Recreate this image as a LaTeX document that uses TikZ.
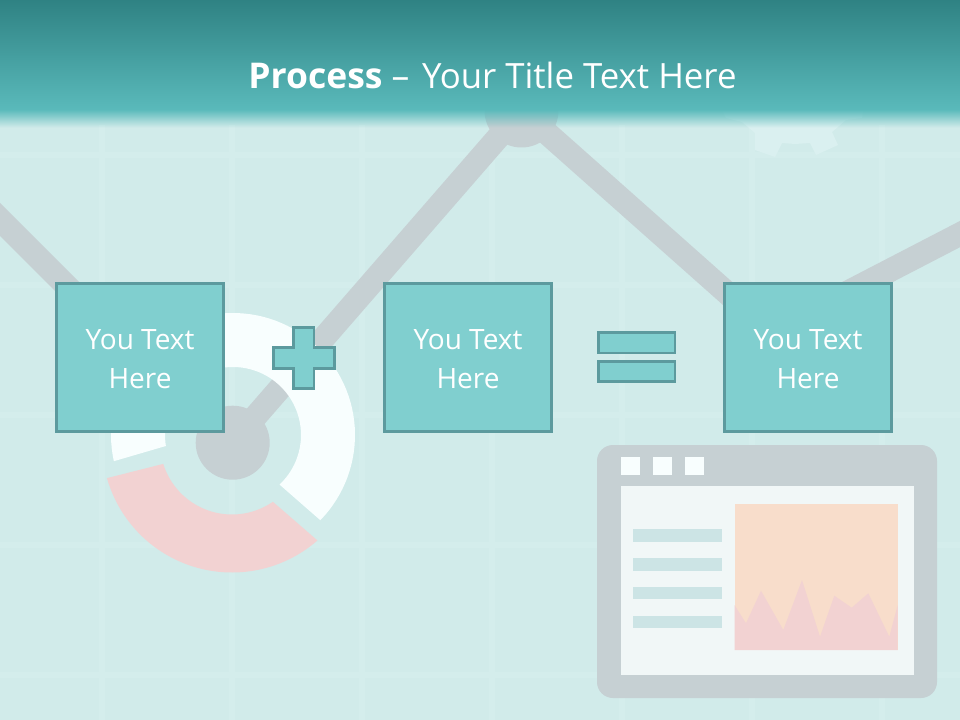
\documentclass[tikz,border=0pt]{standalone}
\usepackage{fontspec}
\setmainfont{Open Sans}
\definecolor{bgc}{HTML}{D1EBEA}
\definecolor{gridc}{HTML}{D4EDEC}
\definecolor{grayc}{HTML}{C6D0D3}
\definecolor{topc}{HTML}{2F8283}
\definecolor{botc}{HTML}{5ABABB}
\definecolor{boxc}{HTML}{80CFCF}
\definecolor{edgec}{HTML}{5C9A9E}
\definecolor{whitec}{HTML}{F8FEFE}
\definecolor{pinkc}{HTML}{F2D2D2}
\definecolor{orangec}{HTML}{F8DDCB}
\definecolor{panelc}{HTML}{F1F7F7}
\definecolor{barc}{HTML}{CCE4E5}
\definecolor{gearc}{HTML}{DAF0F0}
\tikzset{
  x=0.75pt,y=-0.75pt,
  gridline/.style={draw=gridc,line width=4pt},
  chartline/.style={draw=grayc,line width=17.5pt},
  disc/.style={circle,fill=grayc,inner sep=0pt,minimum size=55.5pt},
  textbox/.style={draw=edgec,line width=2pt,fill=boxc,text=white,minimum width=125pt,minimum height=111pt,inner sep=0pt,align=center,font=\fontsize{21pt}{29.6pt}\selectfont},
  sym/.style={draw=edgec,line width=2pt,fill=boxc},
}
\begin{document}
\begin{tikzpicture}
\useasboundingbox (0,0) rectangle (960,720);
\fill[bgc] (0,0) rectangle (960,720);
\foreach \gx in {102,232,362,492,622,752,882} \draw[gridline] (\gx,125) -- (\gx,720);
\foreach \gy in {155,285,415,545,675} \draw[gridline] (0,\gy) -- (960,\gy);
% gear
\fill[gearc] (723,90) -- (723,112) -- (726,118) -- (742,122) -- (755,133) -- (755,150) -- (775,157) -- (782,143) -- (795,144) -- (810,143) -- (816,155) -- (838,145) -- (832,132) -- (846,120) -- (862,118) -- (866,90) -- cycle;
% chart line
\coordinate (p0) at (-20,199.5);
\coordinate (p1) at (232.7,442.7);
\coordinate (p2) at (521.5,110.5);
\coordinate (p3) at (771,332);
\coordinate (p4) at (980,223.7);
\coordinate (p5) at (130,349.5);
\draw[chartline] (p0) -- (p5);
\draw[chartline] (p1) -- (p2);
\draw[chartline] (p2) -- (p3) -- (p4);
\node[disc] (hubtop) at (p2) {};
% donut
\fill[whitec] plot[domain=44.3:-192.4,samples=80] ({233+122*cos(\x)},{435+122*sin(\x)}) -- plot[domain=-189.3:46.8,samples=80] ({233+68*cos(\x)},{435+68*sin(\x)}) -- cycle;
\fill[pinkc] plot[domain=48.9:164.1,samples=60] ({232+130*cos(\x)},{442.5+130*sin(\x)}) -- plot[domain=162.7:55.4,samples=60] ({232+72*cos(\x)},{442.5+72*sin(\x)}) -- cycle;
\node[disc] (hubdonut) at (p1) {};
% window
\fill[grayc,rounded corners=12pt] (597,445) rectangle (937,698);
\foreach \wx in {621,653,685} \fill[whitec] (\wx,457) rectangle ++(18.5,18);
\fill[panelc] (621,485.5) rectangle (914,675);
\foreach \wy in {529,558,586.7,615.7} \fill[barc] (633,\wy) rectangle ++(88.5,12.5);
\fill[orangec] (734.5,503.5) rectangle (897.5,650);
\fill[pinkc] (734.5,605) -- (746,623.3) -- (761,590.7) -- (783.3,630) -- (802,580) -- (820,636.7) -- (834.3,595.7) -- (851.7,607.7) -- (868.3,593.3) -- (889.3,636.7) -- (897.5,605.7) -- (897.5,650) -- (734.5,650) -- cycle;
% header
\shade[top color=topc,bottom color=botc,draw=none] (0,0) rectangle (960,110);
\foreach \st in {0,1,...,17}
  \pgfmathsetmacro{\op}{1-(\st+0.5)/18}
  \fill[botc,opacity=\op] (0,110+\st) rectangle (960,111+\st);
\node[text=white,font=\fontsize{26.6pt}{30pt}\selectfont,anchor=center,inner sep=0pt] (title) at (492.5,75.5) {\textbf{Process} – \hspace{2.5pt}{\fontsize{26.1pt}{30pt}\selectfont Your Title Text Here}};
% boxes
\node[textbox] (box1) at (140,357.5) {\rule{0pt}{25.5pt}You Text\\Here\rule[-8pt]{0pt}{8pt}};
\node[textbox] (box2) at (468,357.5) {\rule{0pt}{25.5pt}You Text\\Here\rule[-8pt]{0pt}{8pt}};
\node[textbox] (box3) at (808,357.5) {\rule{0pt}{25.5pt}You Text\\Here\rule[-8pt]{0pt}{8pt}};
% symbols
\draw[sym] (293.5,327.5) -- (314,327.5) -- (314,347.5) -- (334.5,347.5) -- (334.5,368.5) -- (314,368.5) -- (314,388.5) -- (293.5,388.5) -- (293.5,368.5) -- (273.5,368.5) -- (273.5,347.5) -- (293.5,347.5) -- cycle;
\draw[sym] (598.5,332.5) rectangle (675,353);
\draw[sym] (598.5,361.5) rectangle (675,381.5);
\end{tikzpicture}
\end{document}
